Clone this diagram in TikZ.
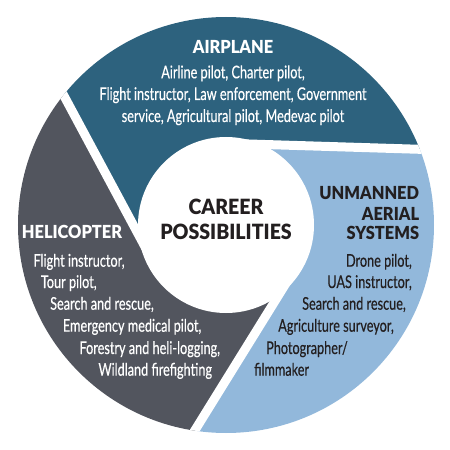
\documentclass[tikz,border=0pt]{standalone}
\usepackage{fontspec}
\setmainfont{Lato}
\newfontfamily\bodyf{Lato}[FakeStretch=0.725,FakeBold=0.4]
\newfontfamily\headf{Lato}[FakeStretch=0.9,BoldFont={Lato Black},BoldFeatures={FakeStretch=0.91}]
\newfontfamily\centf{Lato}[FakeStretch=0.9,BoldFont={Lato Black},BoldFeatures={FakeStretch=0.93}]
\definecolor{planec}{RGB}{45,98,126}
\definecolor{uasc}{RGB}{146,184,219}
\definecolor{helic}{RGB}{82,85,94}
\definecolor{inkc}{RGB}{35,31,32}
\tikzset{
  gapline/.style={draw=white,line width=9},
  headtxt/.style={inner sep=0,font=\headf\bfseries\fontsize{18}{20}\selectfont},
  bodytxt/.style={inner sep=0,font=\bodyf\fontsize{17.5}{19}\selectfont},
  centertxt/.style={inner sep=0,font=\centf\bfseries\fontsize{21}{23}\selectfont,text=inkc}
}
\begin{document}
\begin{tikzpicture}[x=1pt,y=1pt]
\useasboundingbox (-226,-225) rectangle (224,225);
\begin{scope}
  \clip (0,0) circle (208);
  \foreach \ang/\col in {0/planec,-120/uasc,120/helic}{
    \begin{scope}[rotate=\ang]
      \fill[\col] (4.83,81.56) -- (219.73,74.89) -- (18.8:400) -- (79:400) -- (138.8:400)
        -- (-174.73,152.84) -- (-73.05,-36.6) -- (0,0) -- cycle;
    \end{scope}
  }
  \foreach \ang in {0,120,240}{
    \begin{scope}[rotate=\ang]
      \path[gapline] (4.83,81.56) coordinate (g1) -- (219.73,74.89) coordinate (g2);
    \end{scope}
  }
  \fill[white] (0,0) circle (88);
\end{scope}
% center
\node[centertxt,anchor=base] (c1) at (0,10) {CAREER};
\node[centertxt,anchor=base] (c2) at (0,-14) {POSSIBILITIES};
% airplane
\node[headtxt,text=white,anchor=base] (ah) at (7,171.7) {AIRPLANE};
\node[bodytxt,text=white,anchor=base] (a1) at (7,146.7) {Airline pilot, Charter pilot,};
\node[bodytxt,text=white,anchor=base] (a2) at (7,125) {Flight instructor, Law enforcement, Government};
\node[bodytxt,text=white,anchor=base] (a3) at (7,103) {service, Agricultural pilot, Medevac pilot};
% UAS
\node[headtxt,text=inkc,anchor=base east] (u1) at (193.3,25) {UNMANNED};
\node[headtxt,text=inkc,anchor=base east] (u2) at (193.3,5) {AERIAL};
\node[headtxt,text=inkc,anchor=base east] (u3) at (193.3,-14.3) {SYSTEMS};
\node[bodytxt,text=inkc,anchor=base east] (ub1) at (186,-41.7) {Drone pilot,};
\node[bodytxt,text=inkc,anchor=base east] (ub2) at (186,-63) {UAS instructor,};
\node[bodytxt,text=inkc,anchor=base east] (ub3) at (180,-84.7) {Search and rescue,};
\node[bodytxt,text=inkc,anchor=base east] (ub4) at (168,-106.7) {Agriculture surveyor,};
\node[bodytxt,text=inkc,anchor=base west] (ub5) at (40,-129) {Photographer/};
\node[bodytxt,text=inkc,anchor=base west] (ub6) at (28,-150.7) {filmmaker};
% helicopter
\node[headtxt,text=white,anchor=base west] (hh) at (-204.3,-13.3) {HELICOPTER};
\node[bodytxt,text=white,anchor=base west] (h1) at (-192.7,-41.7) {Flight instructor,};
\node[bodytxt,text=white,anchor=base west] (h2) at (-185.3,-63) {Tour pilot,};
\node[bodytxt,text=white,anchor=base west] (h3) at (-176,-84.7) {Search and rescue,};
\node[bodytxt,text=white,anchor=base west] (h4) at (-163.3,-106.7) {Emergency medical pilot,};
\node[bodytxt,text=white,anchor=base west] (h5) at (-146.7,-129) {Forestry and heli-logging,};
\node[bodytxt,text=white,anchor=base west] (h6) at (-127.7,-150.7) {Wildland firefighting};
\end{tikzpicture}
\end{document}
